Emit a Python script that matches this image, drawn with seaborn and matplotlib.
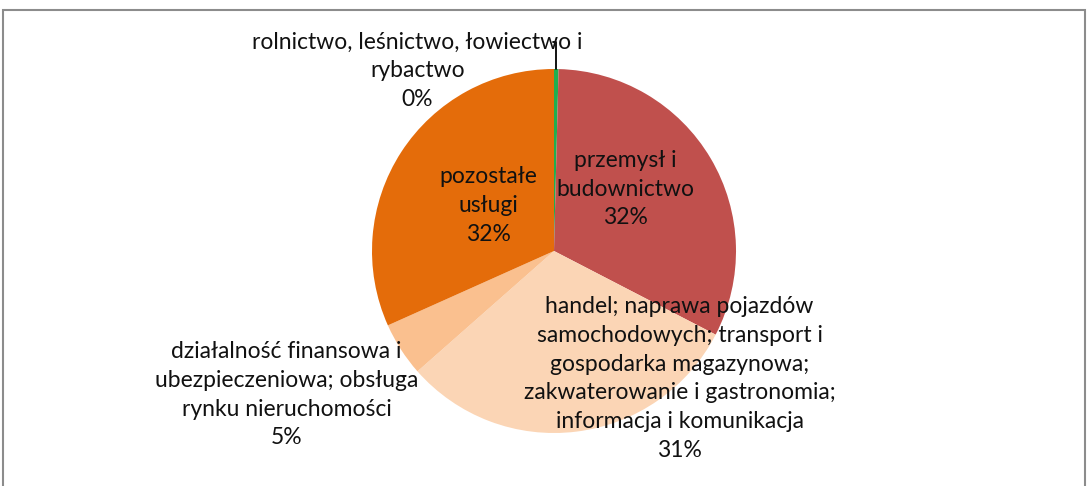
import matplotlib
matplotlib.use("Agg")
import matplotlib.pyplot as plt
import seaborn as sns
import numpy as np
from matplotlib.patches import Rectangle

# data (shares in percent)
sectors = [
    "rolnictwo, leśnictwo, łowiectwo i\nrybactwo",
    "przemysł i\nbudownictwo",
    "handel; naprawa pojazdów\nsamochodowych; transport i\ngospodarka magazynowa;\nzakwaterowanie i gastronomia;\ninformacja i komunikacja",
    "działalność finansowa i\nubezpieczeniowa; obsługa\nrynku nieruchomości",
    "pozostałe\nusługi",
]
shares = [0.4, 32.2, 30.9, 4.8, 31.7]
share_labels = ["0%", "32%", "31%", "5%", "32%"]

colors = ["#1FAF4F", "#C0504D", "#FBD5B5", "#FAC08F", "#E46C0A"]

# label centres in pie units (radius = 1)
label_pos = [(-0.75, 0.99), (0.39, 0.34), (0.69, -0.70), (-1.47, -0.79), (-0.36, 0.25)]

sns.set_theme(style="white")
plt.rcParams["font.family"] = ["Lato", "DejaVu Sans"]

W, H = 1088, 486
fig = plt.figure(figsize=(W / 100, H / 100), dpi=100)

# outer frame of the chart area
fig.patches.append(Rectangle((3 / W, -0.05), 1082 / W, 1.05 - 10 / H,
                             transform=fig.transFigure, fill=False,
                             edgecolor="#8C8C8C", linewidth=1.5))

cx, cy, r = 554, 251, 182
ax = fig.add_axes([(cx - r) / W, (H - cy - r) / H, 2 * r / W, 2 * r / H])
wedges, _ = ax.pie(shares, colors=colors, startangle=90, counterclock=False,
                   radius=1, wedgeprops=dict(linewidth=0))
ax.set_xlim(-1, 1)
ax.set_ylim(-1, 1)
ax.set_aspect("equal")
ax.axis("off")

for name, pct, (x, y) in zip(sectors, share_labels, label_pos):
    ax.text(x, y, name + "\n" + pct, ha="center", va="center",
            fontsize=16.5, color="#111111", linespacing=1.45, clip_on=False)

# leader line for the tiny slice
w = wedges[0]
mid = np.deg2rad((w.theta1 + w.theta2) / 2)
x0, y0 = np.cos(mid), np.sin(mid)
ax.plot([x0, x0, x0 - 0.02], [y0, 1.15, 1.15], color="black", lw=1.3, clip_on=False)

fig.savefig("out.png", dpi=100)
